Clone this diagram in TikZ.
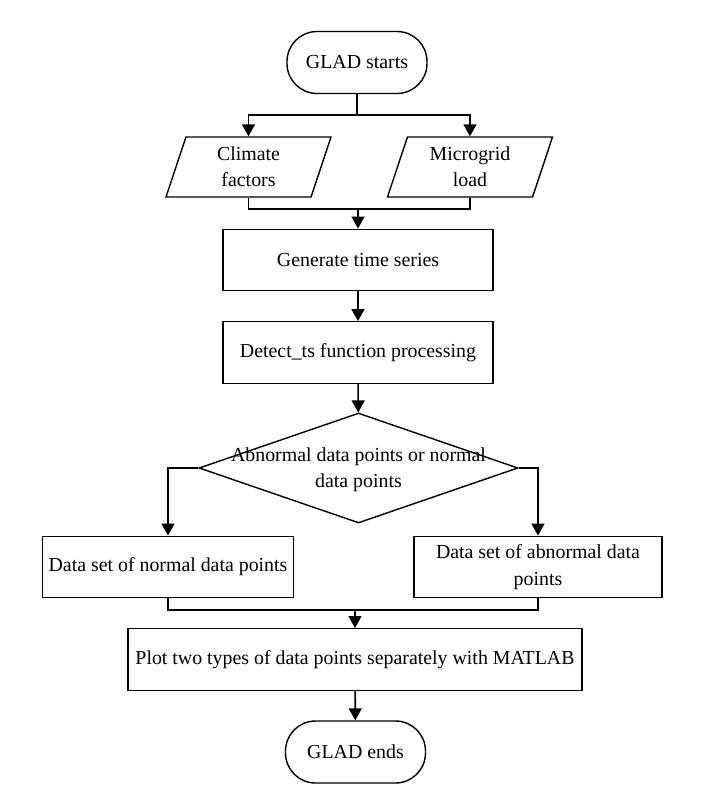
\documentclass[tikz,border=0pt]{standalone}
\usepackage{fontspec}
\setmainfont{Liberation Serif}
\usepackage{tikz}
\usetikzlibrary{arrows.meta, positioning, shapes.geometric, calc}

\begin{document}
\begin{tikzpicture}[every node/.style={draw, line width=0.8pt, align=center, font=\fontsize{11.3}{15}\selectfont},
    term/.style={rectangle, rounded corners=0.6cm, minimum width=2.8cm, minimum height=1.24cm},
    proc/.style={rectangle, minimum height=1.23cm},
    io/.style={trapezium, trapezium left angle=69, trapezium right angle=111, trapezium stretches body, minimum width=3.3cm, minimum height=1.2cm},
    decision/.style={diamond, minimum width=6.38cm, minimum height=2.2cm, inner sep=0pt},
    arr/.style={-{Triangle[length=0.24cm, width=0.26cm]}, line width=0.9pt},
    line/.style={line width=0.9pt}]
        \useasboundingbox (0,0) rectangle (14.48,-16.04);

        \node[term] (start) at (7.14, -1.25) {GLAD starts};
        \node[io] (climate) at (4.97, -3.34) {Climate\\factors};
        \node[io] (micro) at (9.40, -3.34) {Microgrid\\load};
        \node[proc, minimum width=5.4cm] (gen) at (7.16, -5.20) {Generate time series};
        \node[proc, minimum width=5.4cm] (detect) at (7.16, -7.05) {Detect\_ts function processing};
        \node[decision, label={[draw=none, yshift=-0.04cm]center:Abnormal data points or normal\\data points}] (dec) at (7.17, -9.36) {};
        \node[proc, minimum width=4.96cm] (normal) at (3.36, -11.34) {Data set of normal data points};
        \node[proc, minimum width=4.96cm] (abnormal) at (10.76, -11.34) {Data set of abnormal data\\points};
        \node[proc, minimum width=9.08cm] (plot) at (7.10, -13.19) {Plot two types of data points separately with MATLAB};
        \node[term] (end) at (7.11, -15.04) {GLAD ends};

        % split and merge points
        \coordinate (s1) at (7.14, -2.30);
        \coordinate (m1) at (7.16, -4.18);
        \coordinate (m2) at (7.10, -12.20);

        \draw[line] (start) -- (s1);
        \draw[arr] (s1) -| (climate.90); \draw[arr] (s1) -| (micro.90);
        \draw[line] (climate.270) |- (m1) -| (micro.270);
        \draw[arr] (m1) -- (gen);
        \draw[arr] (gen) -- (detect);
        \draw[arr] (detect) -- (dec);
        \draw[arr] (dec.west) -| (normal.north); \draw[arr] (dec.east) -| (abnormal.north);
        \draw[line] (normal.south) |- (m2) -| (abnormal.south);
        \draw[arr] (m2) -- (plot);
        \draw[arr] (plot) -- (end);
    \end{tikzpicture}
\end{document}
